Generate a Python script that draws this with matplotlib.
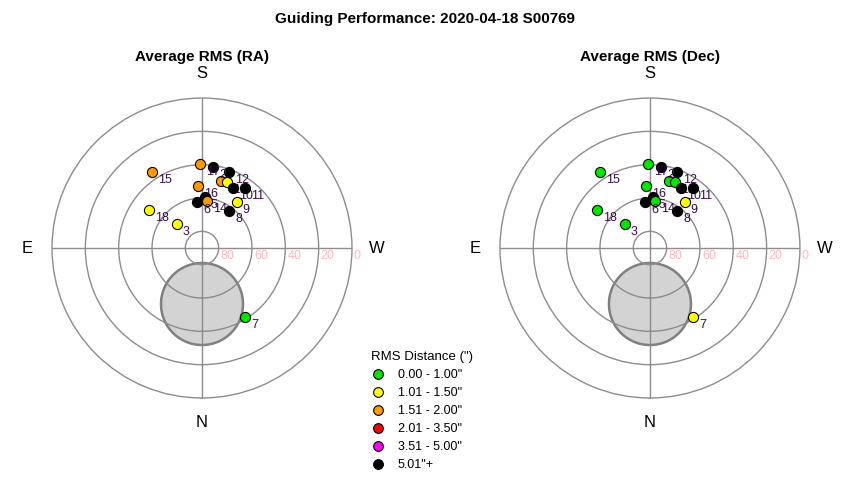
import matplotlib.pyplot as plt
import numpy as np
from matplotlib.lines import Line2D
from matplotlib.transforms import offset_copy

plt.rcParams['font.family'] = ['Liberation Sans', 'DejaVu Sans']

# frame numbers, altitude / azimuth (deg) of each guiding frame
frames = ['1', '13', '10', '11', '12', '2', '17', '15', '18', '3', '16', '5', '14', '6', '9', '8', '7']
alt = [48.3, 47.4, 49.4, 45.9, 41.4, 40.7, 39.8, 35.2, 51.0, 69.1, 52.6, 59.6, 61.6, 62.4, 55.6, 62.4, 41.2]
az = [195.6, 200.9, 207.0, 215.8, 199.7, 187.9, 178.6, 146.6, 125.8, 133.5, 176.6, 183.4, 186.1, 174.1, 217.2, 216.4, 328.1]

# RMS class of each frame (index into rms_labels)
ra_cat = [2, 1, 5, 5, 5, 5, 2, 2, 1, 1, 2, 5, 2, 5, 1, 5, 0]
dec_cat = [0, 0, 5, 5, 5, 5, 0, 0, 0, 0, 0, 5, 0, 5, 1, 5, 1]

rms_labels = ['0.00 - 1.00"', '1.01 - 1.50"', '1.51 - 2.00"', '2.01 - 3.50"', '3.51 - 5.00"', '5.01"+']
rms_colors = ['#00e600', '#ffff00', '#ff9900', '#ff0000', '#ff00ff', '#000000']

# moon / exclusion zone
moon_alt, moon_az, moon_radius = 56.4, 0.0, 24.6

alt_rings = [80, 60, 40, 20, 0]

fig = plt.figure(figsize=(8.5, 4.8), dpi=100)
fig.suptitle('Guiding Performance: 2020-04-18 S00769', fontsize=11, fontweight='bold', y=0.975)

grid_col = '#8c8c8c'
label_col = '#3d0a4d'


def draw_panel(ax, cats, title):
    ax.set_theta_zero_location('S')
    ax.set_theta_direction(-1)
    ax.set_ylim(0, 90)
    ax.set_xticks(np.radians([0, 90, 180, 270]))
    ax.set_xticklabels([])
    ax.set_yticks([90 - a for a in alt_rings[:-1]])
    ax.set_yticklabels([])
    ax.grid(True, color=grid_col, linewidth=1)
    ax.spines['polar'].set_color(grid_col)
    ax.spines['polar'].set_linewidth(1)
    ax.set_title(title, fontsize=11, fontweight='bold', pad=27)

    # compass letters
    for name, a in zip(['N', 'E', 'S', 'W'], [0, 90, 180, 270]):
        ax.text(np.radians(a), 105, name, ha='center', va='center', fontsize=12, clip_on=False)

    # altitude labels along the west axis
    tr = offset_copy(ax.transData, fig=fig, x=2, y=-2, units='dots')
    for a in alt_rings:
        ax.text(np.radians(270), 90 - a, str(a), transform=tr, ha='left', va='top',
                fontsize=9, color='#ffb6c1', clip_on=False)

    # moon circle
    r0 = 90 - moon_alt
    th0 = np.radians(moon_az)
    t = np.linspace(0, 2 * np.pi, 200)
    cx = r0 * np.cos(th0) + moon_radius * np.cos(t)
    cy = r0 * np.sin(th0) + moon_radius * np.sin(t)
    ax.fill(np.arctan2(cy, cx), np.hypot(cx, cy), facecolor='#d3d3d3',
            edgecolor='#808080', linewidth=1.8, zorder=1)

    lt = offset_copy(ax.transData, fig=fig, x=6, y=-2, units='dots')
    for i, (f, a, z, c) in enumerate(zip(frames, alt, az, cats)):
        ax.plot(np.radians(z), 90 - a, 'o', markersize=7.3, markerfacecolor=rms_colors[c],
                markeredgecolor='black', markeredgewidth=0.8, zorder=3 + 2 * i)
        ax.text(np.radians(z), 90 - a, f, transform=lt, ha='left', va='top',
                fontsize=9, color=label_col, zorder=4 + 2 * i)


ax1 = fig.add_axes([0.0612, 0.1708, 0.3529, 0.625], projection='polar')
draw_panel(ax1, ra_cat, 'Average RMS (RA)')
ax2 = fig.add_axes([0.5882, 0.1708, 0.3529, 0.625], projection='polar')
draw_panel(ax2, dec_cat, 'Average RMS (Dec)')

handles = [Line2D([], [], marker='o', linestyle='', markersize=7, markerfacecolor=col,
                  markeredgecolor='black', markeredgewidth=0.8) for col in rms_colors]
fig.legend(handles, rms_labels, title='RMS Distance (")', loc='upper left',
           bbox_to_anchor=(0.429, 0.282), frameon=False, fontsize=9, title_fontsize=9.5,
           alignment='left', handletextpad=0.95, labelspacing=0.48, borderpad=0,
           handlelength=1.2)

plt.savefig('out.png', dpi=100)
